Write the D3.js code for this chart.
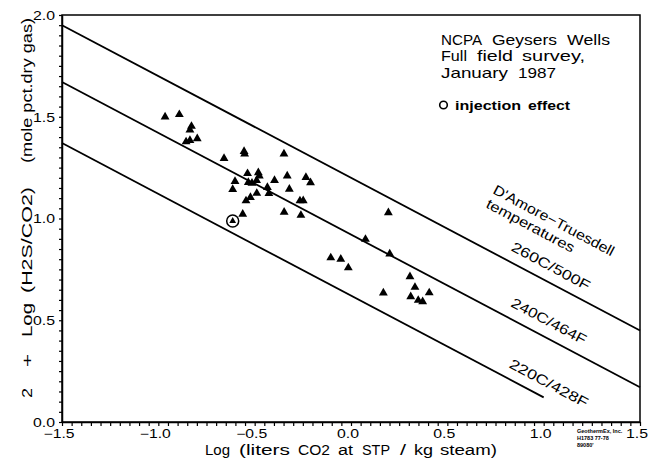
<!DOCTYPE html>
<html>
<head>
<meta charset="utf-8">
<script src="https://cdn.jsdelivr.net/npm/d3@7"></script>
<style>
  html, body { margin: 0; padding: 0; background: #fff; }
  svg { display: block; font-family: "Liberation Sans", Arial, sans-serif; }
  text { fill: #000; }
</style>
</head>
<body>
<svg id="chart" width="648" height="462"></svg>
<script>
// ---- Data ----
const logCO2 = [-0.965, -0.891, -0.828, -0.836, -0.856, -0.836, -0.798, -0.659, -0.555, -0.552,
  -0.348, -0.537, -0.481, -0.476, -0.602, -0.533, -0.514, -0.490, -0.397, -0.331,
  -0.234, -0.210, -0.614, -0.434, -0.426, -0.320, -0.489, -0.522, -0.545, -0.265,
  -0.248, -0.562, -0.347, -0.260, 0.194, 0.075, 0.201, -0.105, -0.053, -0.014,
  0.306, 0.332, 0.406, 0.168, 0.310, 0.349, 0.372];
const logH2S = [1.499, 1.511, 1.453, 1.435, 1.377, 1.384, 1.392, 1.295, 1.330, 1.317,
  1.317, 1.221, 1.225, 1.209, 1.182, 1.177, 1.174, 1.187, 1.187, 1.209,
  1.202, 1.176, 1.143, 1.153, 1.123, 1.144, 1.124, 1.104, 1.087, 1.087,
  1.088, 1.021, 1.031, 1.016, 1.029, 0.898, 0.826, 0.807, 0.800, 0.758,
  0.714, 0.662, 0.635, 0.634, 0.616, 0.598, 0.591];
const injectionX = [-0.614];
const injectionY = [0.988];

// D'Amore-Truesdell isotherms (endpoints)
const isoLabels = ["260C/500F", "240C/464F", "220C/428F"];
const isoX0 = [-1.5, -1.5, -1.5];
const isoY0 = [1.95, 1.671, 1.371];
const isoX1 = [1.5, 1.5, 1.0];
const isoY1 = [0.45, 0.171, 0.121];

const xTickValues = [-1.5, -1.0, -0.5, 0.0, 0.5, 1.0, 1.5];
const xTickLabels = ["\u22121.5", "\u22121.0", "\u22120.5", "0.0", "0.5", "1.0", "1.5"];
const yTickValues = [0.0, 0.5, 1.0, 1.5, 2.0];
const yTickLabels = ["0.0", "0.5", "1.0", "1.5", "2.0"];

const titleWords = [["NCPA", "Geysers", "Wells"], ["Full", "field", "survey,"], ["January", "1987"]];
const legendWords = ["injection", "effect"];
const xTitleWords = ["Log", "(liters", "CO2", "at", "STP", "/", "kg", "steam)"];
const yTitleWords = ["2", "+", "Log", "(H2S/CO2)", "(mole pct.dry gas)"];
const isoTitle = ["D'Amore\u2212Truesdell", "temperatures"];
const credit = ["GeothermEx, Inc.", "H1783      77-78", "89080'"];

// ---- Layout (pixel spans of the words) ----
const titleSpans = [[[441, 482], [492, 557], [567, 610]],
                    [[441, 467], [477, 513], [522, 585]],
                    [[441, 508], [518, 556]]];
const titleBase = [45, 61, 78];
const legendSpans = [[455, 521], [528, 570]];
const xTitleSpans = [[205, 230], [239, 290], [298, 330], [338, 353], [362, 390], [400, 406], [414, 433], [440, 497]];
const yTitleSpans = [[398, 388], [367, 354], [337, 303], [293, 187], [163, 18]];

const svg = d3.select("#chart");
const pL = 62, pR = 640, pT = 15, pB = 422;
const x = d3.scaleLinear().domain([-1.5, 1.5]).range([pL, pR]);
const y = d3.scaleLinear().domain([0, 2]).range([pB, pT]);

function txt(parent, s, px, py, size, len) {
  const t = parent.append("text").attr("x", px).attr("y", py)
    .style("font-size", size + "px").text(s);
  if (len) t.attr("textLength", len).attr("lengthAdjust", "spacingAndGlyphs");
  return t;
}

// Frame
svg.append("rect").attr("x", pL).attr("y", pT)
  .attr("width", pR - pL).attr("height", pB - pT)
  .attr("fill", "none").attr("stroke", "#000").attr("stroke-width", 1.5);

// Axes with minor ticks every 0.05
const minorX = d3.range(-30, 31).map(i => i * 0.05);
const minorY = d3.range(0, 41).map(i => i * 0.05);
const gx = svg.append("g").attr("transform", `translate(0,${pB})`)
  .call(d3.axisBottom(x).tickValues(minorX).tickSize(4).tickSizeOuter(0).tickFormat(""));
const gy = svg.append("g").attr("transform", `translate(${pL},0)`)
  .call(d3.axisLeft(y).tickValues(minorY).tickSize(3).tickSizeOuter(0).tickFormat(""));
[gx, gy].forEach(g => {
  g.select(".domain").attr("stroke", "#000").attr("stroke-width", 1.5);
  g.selectAll(".tick line").attr("stroke", "#000").attr("stroke-width", 1.2);
});

// Tick labels
svg.append("g").selectAll("text").data(xTickValues).join("text")
  .attr("x", d => x(d) - 3).attr("y", 438)
  .attr("text-anchor", "middle")
  .style("font-size", "12px")
  .attr("textLength", (d, i) => xTickLabels[i].length > 3 ? 31 : 22)
  .attr("lengthAdjust", "spacingAndGlyphs")
  .text((d, i) => xTickLabels[i]);
svg.append("g").selectAll("text").data(yTickValues).join("text")
  .attr("x", 55).attr("y", d => y(d) + 4.8)
  .attr("text-anchor", "end")
  .style("font-size", "13px")
  .attr("textLength", 22)
  .attr("lengthAdjust", "spacingAndGlyphs")
  .text((d, i) => yTickLabels[i]);

// Axis titles (word by word)
xTitleWords.forEach((w, i) => txt(svg, w, xTitleSpans[i][0], 455, 14, xTitleSpans[i][1] - xTitleSpans[i][0]));
const yT = svg.append("g").attr("transform", "translate(32,0) rotate(-90)");
yTitleWords.forEach((w, i) => txt(yT, w, -yTitleSpans[i][0], 0, 15, yTitleSpans[i][0] - yTitleSpans[i][1]));

// Isotherm lines
svg.append("g").selectAll("line").data(isoLabels).join("line")
  .attr("x1", (d, i) => x(isoX0[i])).attr("y1", (d, i) => y(isoY0[i]))
  .attr("x2", (d, i) => x(isoX1[i])).attr("y2", (d, i) => y(isoY1[i]))
  .attr("stroke", "#000").attr("stroke-width", 1.8);

// Isotherm labels
const ang = 28;
const isoCenters = [[551, 266], [549, 321], [549, 383]];
const isoLens = [87, 83, 87];
isoLabels.forEach((s, i) => {
  svg.append("text")
    .attr("transform", `translate(${isoCenters[i][0]},${isoCenters[i][1]}) rotate(${ang})`)
    .attr("text-anchor", "middle").attr("dy", "0.36em")
    .style("font-size", "14px")
    .attr("textLength", isoLens[i]).attr("lengthAdjust", "spacingAndGlyphs")
    .text(s);
});
txt(svg, isoTitle[0], 0, 0, 14, 135).attr("transform", `translate(492,193) rotate(${ang})`);
txt(svg, isoTitle[1], 0, 0, 14, 98).attr("transform", `translate(485,207) rotate(${ang})`);

// Data points
const tri = d3.symbol().type(d3.symbolTriangle).size(34);
svg.append("g").selectAll("path").data(logCO2).join("path")
  .attr("d", tri)
  .attr("transform", (d, i) => `translate(${x(d)},${y(logH2S[i])})`)
  .attr("fill", "#000");

// Injection-effect point
const inj = svg.append("g");
inj.selectAll("circle").data(injectionX).join("circle")
  .attr("cx", d => x(d)).attr("cy", (d, i) => y(injectionY[i])).attr("r", 6)
  .attr("fill", "none").attr("stroke", "#000").attr("stroke-width", 1.5);
inj.selectAll("path").data(injectionX).join("path")
  .attr("d", d3.symbol().type(d3.symbolTriangle).size(20))
  .attr("transform", (d, i) => `translate(${x(d)},${y(injectionY[i])})`)
  .attr("fill", "#000");

// Title block
titleWords.forEach((line, li) => line.forEach((w, wi) => {
  const sp = titleSpans[li][wi];
  txt(svg, w, sp[0], titleBase[li], 15, sp[1] - sp[0]);
}));

// Legend
svg.append("circle").attr("cx", 443.5).attr("cy", 105).attr("r", 3.8)
  .attr("fill", "none").attr("stroke", "#000").attr("stroke-width", 1.6);
legendWords.forEach((w, i) => txt(svg, w, legendSpans[i][0], 109.5, 12, legendSpans[i][1] - legendSpans[i][0]).style("font-weight", "bold"));

// Credit
credit.forEach((s, i) => txt(svg, s, 577, 433 + i * 7, 5.5, null).style("font-weight", "bold"));
</script>
</body>
</html>
